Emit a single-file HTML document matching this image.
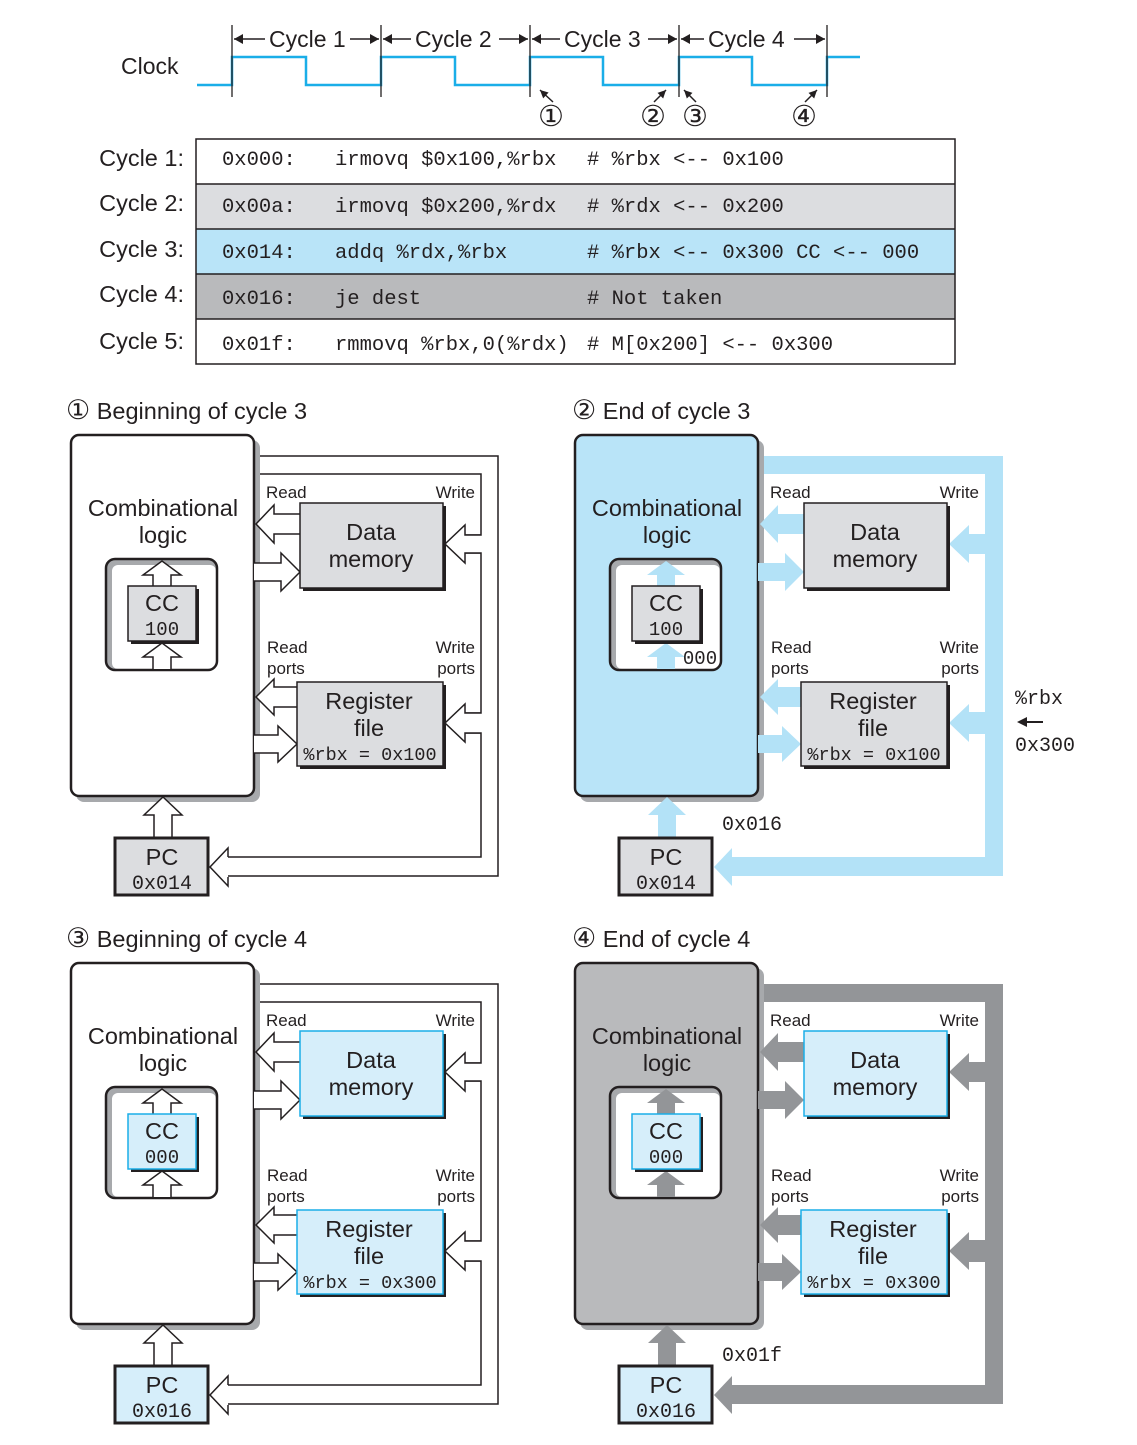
<!DOCTYPE html>
<html><head><meta charset="utf-8">
<style>
html,body{margin:0;padding:0;background:#fff;}
svg{display:block;}
.s{font-family:"Liberation Sans",sans-serif;fill:#231f20;}
.m{font-family:"Liberation Mono",monospace;fill:#231f20;}
</style></head>
<body>
<svg id="sv" width="1137" height="1445" viewBox="0 0 1137 1445" xmlns="http://www.w3.org/2000/svg">
<!-- Clock -->
<text class="s" x="121" y="74" font-size="23">Clock</text>
<polyline fill="none" stroke="#1aaee8" stroke-width="2.5" points="197,85 232,85 232,57 306,57 306,85 381,85 381,57 455,57 455,85 530,85 530,57 603,57 603,85 679,85 679,57 752,57 752,85 827,85 827,57 860,57"/>
<g stroke="#231f20" stroke-width="1.3">
<line x1="232" y1="25" x2="232" y2="97"/><line x1="381" y1="25" x2="381" y2="97"/><line x1="530" y1="25" x2="530" y2="97"/><line x1="679" y1="25" x2="679" y2="97"/><line x1="827" y1="25" x2="827" y2="97"/>
</g>
<g id="cyc" stroke="#231f20" stroke-width="1.5" fill="#231f20"></g>
<g class="s" font-size="23">
<text x="269" y="47">Cycle 1</text><text x="415" y="47">Cycle 2</text><text x="564" y="47">Cycle 3</text><text x="708" y="47">Cycle 4</text>
</g>
<g id="carrows" stroke="#231f20" stroke-width="1.5" fill="#231f20"></g>
<g class="s" font-size="29">
<text x="538" y="126">①</text><text x="640" y="126">②</text><text x="682" y="126">③</text><text x="791" y="126">④</text>
</g>
<!-- Table -->
<rect x="196" y="139" width="759" height="45" fill="#fff"/>
<rect x="196" y="184" width="759" height="45" fill="#dcdde0"/>
<rect x="196" y="229" width="759" height="45" fill="#b9e4f8"/>
<rect x="196" y="274" width="759" height="45" fill="#b9babc"/>
<rect x="196" y="319" width="759" height="45" fill="#fff"/>
<g stroke="#231f20" stroke-width="1.5" fill="none">
<rect x="196" y="139" width="759" height="225"/>
<line x1="196" y1="184" x2="955" y2="184"/><line x1="196" y1="229" x2="955" y2="229"/><line x1="196" y1="274" x2="955" y2="274"/><line x1="196" y1="319" x2="955" y2="319"/>
</g>
<g class="s" font-size="23.5" text-anchor="end">
<text x="184" y="166">Cycle 1:</text><text x="184" y="211">Cycle 2:</text><text x="184" y="257">Cycle 3:</text><text x="184" y="302">Cycle 4:</text><text x="184" y="349">Cycle 5:</text>
</g>
<g class="m" font-size="20.5" xml:space="preserve">
<text x="222" y="165">0x000:</text><text x="335" y="165">irmovq $0x100,%rbx</text><text x="587" y="165"># %rbx &lt;-- 0x100</text>
<text x="222" y="212">0x00a:</text><text x="335" y="212">irmovq $0x200,%rdx</text><text x="587" y="212"># %rdx &lt;-- 0x200</text>
<text x="222" y="258">0x014:</text><text x="335" y="258">addq %rdx,%rbx</text><text x="587" y="258"># %rbx &lt;-- 0x300 CC &lt;-- 000</text>
<text x="222" y="304">0x016:</text><text x="335" y="304">je dest</text><text x="587" y="304"># Not taken</text>
<text x="222" y="350">0x01f:</text><text x="335" y="350">rmmovq %rbx,0(%rdx)</text><text x="587" y="350"># M[0x200] &lt;-- 0x300</text>
</g>
<g id="panels"></g>
<g class="s" font-size="23.5">
<text x="66" y="419"><tspan font-size="27">①</tspan> Beginning of cycle 3</text>
<text x="572" y="419"><tspan font-size="27">②</tspan> End of cycle 3</text>
<text x="66" y="947"><tspan font-size="27">③</tspan> Beginning of cycle 4</text>
<text x="572" y="947"><tspan font-size="27">④</tspan> End of cycle 4</text>
</g>
<g id="ptext"></g>
<g class="m" font-size="20">
<text x="1015" y="704">%rbx</text>
<text x="1015" y="751">0x300</text>
<text x="722" y="830">0x016</text>
<text x="722" y="1361">0x01f</text>
</g>
<polygon points="1017,722 1027,717 1027,721 1043,721 1043,723 1027,723 1027,727" fill="#231f20"/>
</svg>
<script>
var NS="http://www.w3.org/2000/svg";
function el(par,tag,attrs,txt){var e=document.createElementNS(NS,tag);for(var k in attrs)e.setAttribute(k,attrs[k]);if(txt!==undefined)e.textContent=txt;par.appendChild(e);return e;}
// cycle label arrows
var cy=document.getElementById('cyc');
function harrow(x1,x2,y){
 el(cy,'line',{x1:x1,y1:y,x2:x2,y2:y});
 var d=x2>x1?-1:1;
 el(cy,'polygon',{points:x2+','+y+' '+(x2+d*9)+','+(y-5)+' '+(x2+d*9)+','+(y+5),stroke:'none'});
}
[[232,381,269,346],[381,530,415,495],[530,679,564,644],[679,827,708,790]].forEach(function(c){
 harrow(c[2]-4,c[0]+2,39); harrow(c[3]+4,c[1]-2,39);
});
// clock small arrows
var ca=document.getElementById('carrows');
[[553,102,540,90],[654,102,666,90],[696,102,684,90],[805,102,817,90]].forEach(function(a){
 el(ca,'line',{x1:a[0],y1:a[1],x2:a[2],y2:a[3]});
 var dx=a[2]-a[0],dy=a[3]-a[1],L=Math.hypot(dx,dy),ux=dx/L,uy=dy/L,px=-uy,py=ux;
 var bx=a[2]-ux*8,by=a[3]-uy*8;
 el(ca,'polygon',{points:a[2]+','+a[3]+' '+(bx+px*4)+','+(by+py*4)+' '+(bx-px*4)+','+(by-py*4),stroke:'none'});
});
// arrow points: tail pts first and last, tip in middle
function arr(dir,tx,ty,len,sh,hh,hl){
 var p;
 if(dir=='L')p=[[tx+len,ty-sh],[tx+hl,ty-sh],[tx+hl,ty-hh],[tx,ty],[tx+hl,ty+hh],[tx+hl,ty+sh],[tx+len,ty+sh]];
 else if(dir=='R')p=[[tx-len,ty-sh],[tx-hl,ty-sh],[tx-hl,ty-hh],[tx,ty],[tx-hl,ty+hh],[tx-hl,ty+sh],[tx-len,ty+sh]];
 else p=[[tx-sh,ty+len],[tx-sh,ty+hl],[tx-hh,ty+hl],[tx,ty],[tx+hh,ty+hl],[tx+sh,ty+hl],[tx+sh,ty+len]];
 return p.map(function(q){return q.join(',')}).join(' ');
}
var P=document.getElementById('panels'),T=document.getElementById('ptext');
function panel(ox,oy,cfg){
 var g=el(P,'g',{transform:'translate('+ox+','+oy+')'});
 var filled=!!cfg.af;
 function A(pts){
  if(filled) el(g,'polygon',{points:pts,fill:cfg.af});
  else el(g,'polyline',{points:pts,fill:'#fff',stroke:'#231f20','stroke-width':1.5});
 }
 if(filled){
  el(g,'polygon',{points:'250,456 499,456 499,876 228,876 228,857 481,857 481,474 250,474',fill:cfg.af});
  el(g,'rect',{x:460,y:534,width:22,height:20,fill:cfg.af});
  el(g,'rect',{x:460,y:712,width:22,height:22,fill:cfg.af});
 } else {
  el(g,'polyline',{points:'250,456 498,456 498,876 228,876',fill:'none',stroke:'#231f20','stroke-width':1.5});
  el(g,'polyline',{points:'250,474 481,474 481,535 465,535',fill:'none',stroke:'#231f20','stroke-width':1.5});
  el(g,'polyline',{points:'465,553 481,553 481,713 465,713',fill:'none',stroke:'#231f20','stroke-width':1.5});
  el(g,'polyline',{points:'465,733 481,733 481,857 228,857',fill:'none',stroke:'#231f20','stroke-width':1.5});
 }
 el(g,'rect',{x:76,y:440,width:184,height:362,rx:8,fill:'#a7a9ac'});
 el(g,'rect',{x:71,y:435,width:183,height:361,rx:8,fill:cfg.comb,stroke:'#231f20','stroke-width':2.5});
 A(arr('L',256,524,46,10,19,18));
 A(arr('R',300,572,46,9,19,19));
 A(arr('L',445,544,36,9,19,20));
 A(arr('L',256,697,41,10,18,18));
 A(arr('R',297,744,43,9,18,19));
 A(arr('L',445,723,36,10,19,20));
 A(arr('L',210,867,18,10,19,18));
 A(arr('U',163,797,41,9,19,18));
 el(g,'rect',{x:106,y:559,width:111,height:111,rx:9,fill:'#a7a9ac'});
 el(g,'rect',{x:112,y:565,width:104,height:104,rx:6,fill:'#fff'});
 el(g,'rect',{x:106,y:559,width:111,height:111,rx:9,fill:'none',stroke:'#231f20','stroke-width':2.5});
 A(arr('U',162,561,26,9,19,14));
 A(arr('U',162,643,26,9,19,14));
 function box(x,y,w,h,fill,bord){
  el(g,'rect',{x:x+3,y:y+3,width:w,height:h,fill:'#231f20'});
  el(g,'rect',{x:x,y:y,width:w,height:h,fill:fill,stroke:bord,'stroke-width':1.5});
 }
 var bb=cfg.boxB;
 box(128,586,68,55,cfg.box,bb);
 box(300,503,143,85,cfg.box,bb);
 box(297,682,146,84,cfg.box,bb);
 el(g,'rect',{x:115,y:838,width:93,height:57,fill:cfg.box,stroke:'#231f20','stroke-width':3});
 var t=el(T,'g',{transform:'translate('+ox+','+oy+')'});
 function tx(x,y,s,cls,fs,anc){el(t,'text',{x:x,y:y,'class':cls,'font-size':fs,'text-anchor':anc||'middle'},s);}
 tx(163,516,'Combinational','s',23.5);
 tx(163,543,'logic','s',23.5);
 tx(162,611,'CC','s',23.5);
 tx(162,635,cfg.cc,'m',19);
 tx(371,540,'Data','s',23.5);
 tx(371,567,'memory','s',23.5);
 tx(266,498,'Read','s',17,'start');
 tx(475,498,'Write','s',17,'end');
 tx(267,653,'Read','s',17,'start');
 tx(267,674,'ports','s',17,'start');
 tx(475,653,'Write','s',17,'end');
 tx(475,674,'ports','s',17,'end');
 tx(369,709,'Register','s',23.5);
 tx(369,736,'file','s',23.5);
 tx(370,760,'%rbx = '+cfg.rbx,'m',18.5);
 tx(162,865,'PC','s',23.5);
 tx(162,889,cfg.pc,'m',20);
}
panel(0,0,{comb:'#fff',box:'#dcdde0',boxB:'#231f20',cc:'100',rbx:'0x100',pc:'0x014'});
panel(504,0,{comb:'#b9e4f8',box:'#dcdde0',boxB:'#231f20',af:'#b3e2f7',cc:'100',rbx:'0x100',pc:'0x014'});
panel(0,528,{comb:'#fff',box:'#d6eefa',boxB:'#1aaee8',cc:'000',rbx:'0x300',pc:'0x016'});
panel(504,528,{comb:'#b9babc',box:'#d6eefa',boxB:'#1aaee8',af:'#939598',cc:'000',rbx:'0x300',pc:'0x016'});
el(T,'text',{x:700,y:664,'class':'m','font-size':19,'text-anchor':'middle'},'000');
</script>
</body></html>
